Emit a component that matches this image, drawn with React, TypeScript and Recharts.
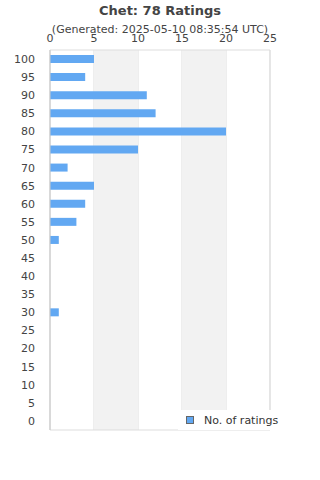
import { BarChart, Bar, XAxis, YAxis, CartesianGrid, ReferenceArea } from 'recharts';

const scores = ['100', '95', '90', '85', '80', '75', '70', '65', '60', '55', '50', '45', '40', '35', '30', '25', '20', '15', '10', '5', '0'];
const counts = [5, 4, 11, 12, 20, 10, 2, 5, 4, 3, 1, 0, 0, 0, 1, 0, 0, 0, 0, 0, 0];
const xTicks = [0, 5, 10, 15, 20, 25];
const bands: [number, number][] = [[5, 10], [15, 20]];

const data = scores.map((score, i) => ({ score, count: counts[i] }));

const FONT = '"DejaVu Sans", sans-serif';
const BAR = '#62a8f2';

export default function App() {
  return (
    <div style={{ position: 'absolute', left: 0, top: 0, width: 320, height: 480, background: '#fff', fontFamily: FONT }}>
      <div style={{ position: 'absolute', top: 3, width: 320, textAlign: 'center', fontSize: 13, fontWeight: 'bold', color: '#444' }}>
        Chet: 78 Ratings
      </div>
      <div style={{ position: 'absolute', top: 23, width: 320, textAlign: 'center', fontSize: 11, color: '#444' }}>
        (Generated: 2025-05-10 08:35:54 UTC)
      </div>
      <BarChart
        width={320}
        height={480}
        data={data}
        layout="vertical"
        margin={{ top: 20, right: 50, bottom: 50, left: 0 }}
      >
        {bands.map(([a, b]) => (
          <ReferenceArea key={a} x1={a} x2={b} fill="#f2f2f2" fillOpacity={1} stroke="none" ifOverflow="visible" />
        ))}
        <CartesianGrid horizontal={false} stroke="#dddddd" />
        <ReferenceArea x1={0} x2={25} fill="none" stroke="#dddddd" />
        <XAxis
          type="number"
          orientation="top"
          domain={[0, 25]}
          ticks={xTicks}
          height={30}
          axisLine={false}
          tickLine={false}
          tick={{ fill: '#444', fontSize: 11, fontFamily: FONT }}
          tickMargin={2}
        />
        <YAxis
          type="category"
          dataKey="score"
          width={50}
          axisLine={{ stroke: '#cccccc' }}
          tickLine={false}
          tick={{ fill: '#444', fontSize: 11, fontFamily: FONT }}
          tickMargin={9}
          interval={0}
        />
        <Bar dataKey="count" name="No. of ratings" fill={BAR} barSize={8} isAnimationActive={false} />
      </BarChart>
      <div style={{ position: 'absolute', left: 178, top: 410, width: 107, height: 20, display: 'flex', alignItems: 'center', background: '#fff', paddingLeft: 8, boxSizing: 'border-box' }}>
        <span style={{ width: 6, height: 6, background: BAR, border: '1px solid #666', marginRight: 10 }} />
        <span style={{ fontSize: 11, color: '#333' }}>No. of ratings</span>
      </div>
    </div>
  );
}
